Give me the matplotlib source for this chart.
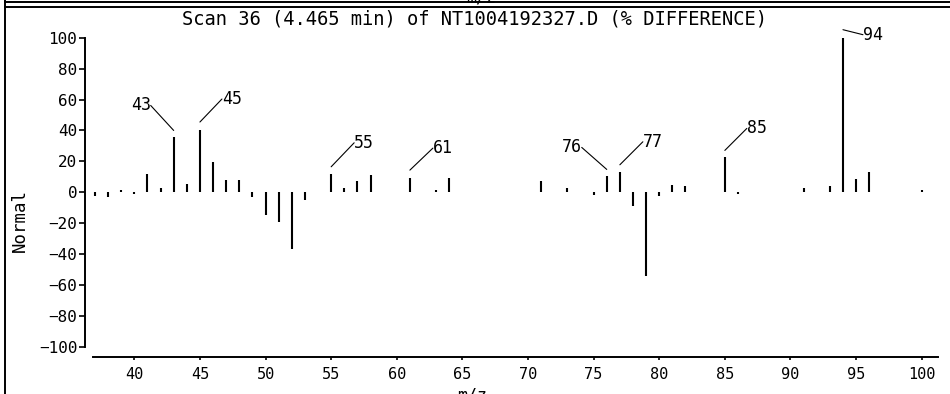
import matplotlib
matplotlib.use('Agg')
import matplotlib.pyplot as plt
import matplotlib.transforms as mtransforms
from matplotlib.lines import Line2D

W, H = 950, 394
MONO = 'DejaVu Sans Mono'

# % difference spectrum, scan 36
mz = [37, 38, 39, 40, 41, 42, 43, 44, 45, 46, 47, 48, 49, 50, 51, 52, 53,
      55, 56, 57, 58, 61, 63, 64, 71, 73, 75, 76, 77, 78, 79, 80, 81, 82,
      85, 86, 91, 93, 94, 95, 96, 100]
diff = [-2.6, -3, 1.5, -1, 12, 3, 35.5, 5.5, 40.3, 19.4, 8, 8, -3, -14.4,
        -19.4, -36.6, -4.7, 12, 3, 7.5, 11.5, 9.2, 1.5, 9.2, 7.5, 3, -2,
        10.3, 13.3, -8.6, -54.3, -2.5, 5, 4, 22.6, -1, 2.5, 4.3, 100, 8.6,
        12.9, 1.5]

# labelled peaks: (m/z, dx, dy, gap) leader offsets in pixels
labels = [(43, -23, 25, 7), (45, 22, 23, 8), (55, 23, 24, 7), (61, 23, 22, 8),
          (76, -25, 22, 7), (77, 23, 23, 7), (85, 22, 22, 7), (94, 20, -5, 8)]

xticks = list(range(40, 101, 5))
yticks = list(range(-100, 101, 20))

title = 'Scan 36 (4.465 min) of NT1004192327.D (% DIFFERENCE)'

fig = plt.figure(figsize=(W / 100, H / 100), dpi=100)
ax = fig.add_axes([93.3 / W, 1 - 347 / H, (937.7 - 93.3) / W, (347 - 37.7) / H])

ax.vlines(mz, 0, diff, color='black', lw=1.5)

ax.set_xlim(36.875, 101.22)
ax.set_ylim(-100, 100)
ax.set_xticks(xticks)
ax.set_yticks(yticks)
ax.set_yticklabels([str(v).replace('-', '\u2212') for v in yticks])

for s in ['top', 'right']:
    ax.spines[s].set_visible(False)
ax.spines['left'].set_position(('outward', 6))
ax.spines['bottom'].set_position(('outward', 7))
for s in ['left', 'bottom']:
    ax.spines[s].set_linewidth(1.4)
ax.tick_params(axis='y', direction='out', length=4, width=1.2, pad=1.5,
               labelsize=11.5)
ax.tick_params(axis='x', direction='out', length=2.4, width=1.2, pad=5,
               labelsize=11)
for t in ax.get_xticklabels() + ax.get_yticklabels():
    t.set_fontfamily(MONO)

# peak labels with leader lines
for m, dx, dy, gap in labels:
    v = diff[mz.index(m)]
    trans = mtransforms.offset_copy(ax.transData, fig=fig, x=0, y=gap, units='dots')
    left = dx < 0
    ax.annotate(str(m), xy=(m, v), xycoords=trans, xytext=(dx, dy),
                textcoords='offset pixels', ha='right' if left else 'left',
                va='center', fontsize=12, family=MONO, annotation_clip=False,
                arrowprops=dict(arrowstyle='-', lw=0.8, color='black',
                                shrinkA=0, shrinkB=0, patchA=None,
                                relpos=(1, 0.5) if left else (0, 0.5)))

fig.text(0.5, 1 - 19 / H, title, ha='center', va='center', fontsize=13.5,
         family=MONO)
fig.text(20 / W, 1 - 220 / H, 'Normal', rotation=90, ha='center', va='center',
         fontsize=12.5, family=MONO)
fig.text(472 / W, 1 - 386 / H, 'm/z', ha='center', va='top', fontsize=12,
         family=MONO)
# cut-off axis label of the panel above
fig.text(481 / W, 1 - 2.5 / H, 'm/z', ha='center', va='baseline', fontsize=12,
         family=MONO)

# page frame lines
fig.add_artist(Line2D([5 / W, 1], [1 - 2 / H, 1 - 2 / H], color='black', lw=1.4))
fig.add_artist(Line2D([5 / W, 1], [1 - 7 / H, 1 - 7 / H], color='black', lw=1.4))
fig.add_artist(Line2D([5 / W, 5 / W], [0, 1], color='black', lw=1.4))

fig.savefig('out.png', dpi=100)
